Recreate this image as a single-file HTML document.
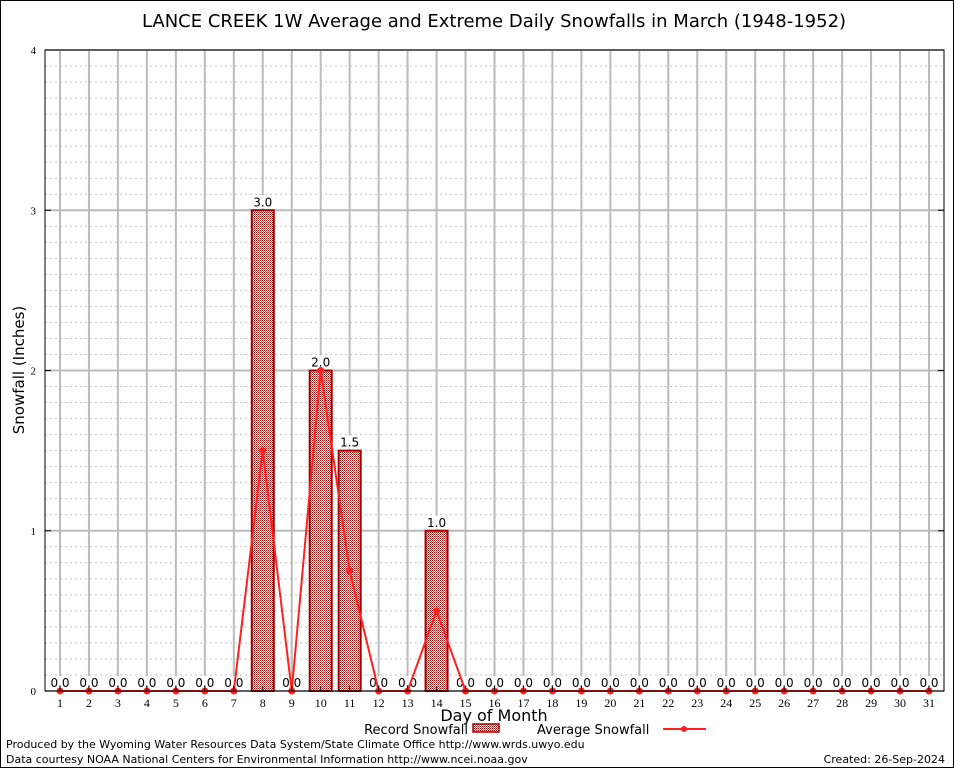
<!DOCTYPE html>
<html><head><meta charset="utf-8"><style>
body{margin:0;background:#fff;}
svg{display:block;font-family:"DejaVu Sans","Liberation Sans",sans-serif;}
</style></head><body>
<svg id="c" width="954" height="768" viewBox="0 0 954 768">
<defs>
<pattern id="hatch" width="2" height="2" patternUnits="userSpaceOnUse">
<rect width="2" height="2" fill="#fff"/><rect width="1" height="1" fill="#a00000"/><rect x="1" y="1" width="1" height="1" fill="#c85a5a"/>
</pattern>
</defs>
<rect x="0.5" y="0.5" width="953" height="767" fill="#fff" stroke="#000"/>
<text x="494" y="27" font-size="18" text-anchor="middle">LANCE CREEK 1W Average and Extreme Daily Snowfalls in March (1948-1952)</text>
<g id="grid"></g>
<g id="bars"></g>
<g id="labels"></g>
<g id="line"></g>
<g id="axes"></g>
<text transform="translate(24,370) rotate(-90)" font-size="15" text-anchor="middle">Snowfall (Inches)</text>
<text x="494" y="721" font-size="16" text-anchor="middle">Day of Month</text>
<g>
<text x="468" y="734" font-size="13" text-anchor="end">Record Snowfall</text>
<rect x="473" y="724" width="26" height="8" fill="url(#hatch)" stroke="#a00000" stroke-width="1.5"/>
</g>
<g>
<text x="537" y="734" font-size="13">Average Snowfall</text>
<line x1="663" y1="729" x2="706" y2="729" stroke="#ff2020" stroke-width="2"/>
<circle cx="684" cy="729" r="3" fill="#ff2020"/>
</g>
<text x="6" y="748" font-size="11">Produced by the Wyoming Water Resources Data System/State Climate Office http://www.wrds.uwyo.edu</text>
<text x="6" y="763" font-size="11">Data courtesy NOAA National Centers for Environmental Information http://www.ncei.noaa.gov</text>
<text x="945" y="763" font-size="11" text-anchor="end">Created: 26-Sep-2024</text>
</svg>
<script>
const days=[1,2,3,4,5,6,7,8,9,10,11,12,13,14,15,16,17,18,19,20,21,22,23,24,25,26,27,28,29,30,31];
const recordSnow=[0,0,0,0,0,0,0,3.0,0,2.0,1.5,0,0,1.0,0,0,0,0,0,0,0,0,0,0,0,0,0,0,0,0,0];
const avgSnow=[0,0,0,0,0,0,0,1.5,0,2.0,0.75,0,0,0.5,0,0,0,0,0,0,0,0,0,0,0,0,0,0,0,0,0];
const yTicks=[0,1,2,3,4];
const NS='http://www.w3.org/2000/svg';
const L=45,R=944,T=50,B=691;
const x=d=>60+(d-1)*(929-60)/30;
const y=v=>B-(v/4)*(B-T);
function mk(tag,at,parent){const e=document.createElementNS(NS,tag);for(const k in at)e.setAttribute(k,at[k]);parent.appendChild(e);return e;}
const grid=document.getElementById('grid'),bars=document.getElementById('bars'),line=document.getElementById('line'),labels=document.getElementById('labels'),axes=document.getElementById('axes');
for(let k=1;k<40;k++){if(k%10===0)continue;const v=k/10;const g=mk('line',{x1:L,x2:R,y1:y(v),y2:y(v),stroke:'#c4c4c4','stroke-dasharray':'2,3','stroke-width':1},grid);

}
days.forEach(d=>{const g=mk('line',{x1:x(d),x2:x(d),y1:T,y2:B,stroke:'#bbb','stroke-width':2},grid);

});
yTicks.forEach(v=>{const g=mk('line',{x1:L,x2:R,y1:y(v),y2:y(v),stroke:'#bbb','stroke-width':2},grid);


const t=mk('text',{x:L-9,y:y(v)+4,'font-size':11,'text-anchor':'end','font-family':'Liberation Serif,serif'},axes);t.textContent=v;


mk('line',{x1:L,x2:L+6,y1:y(v),y2:y(v),stroke:'#000'},axes);mk('line',{x1:R-6,x2:R,y1:y(v),y2:y(v),stroke:'#000'},axes);});
mk('rect',{x:L,y:T,width:R-L,height:B-T,fill:'none',stroke:'#000','stroke-width':1},axes);
days.forEach((d,i)=>{const v=recordSnow[i];
if(v>0){const r=mk('rect',{x:x(d)-11,y:y(v),width:22,height:B-y(v),fill:'url(#hatch)',stroke:'#a00000','stroke-width':2},bars);

}
mk('rect',{x:x(d)-11,y:y(v)-15,width:22,height:13,fill:'#fff'},labels);
const t=mk('text',{x:x(d),y:y(v)-4,'font-size':12,'text-anchor':'middle'},labels);t.textContent=v.toFixed(1);


const tl=mk('text',{x:x(d),y:B+16,'font-size':12,'text-anchor':'middle','font-family':'Liberation Serif,serif'},axes);tl.textContent=d;


mk('line',{x1:x(d),x2:x(d),y1:B,y2:B-5,stroke:'#000'},axes);});
const pl=mk('polyline',{points:days.map((d,i)=>x(d)+','+y(avgSnow[i])).join(' '),fill:'none',stroke:'#ff2020','stroke-width':2},line);


days.forEach((d,i)=>{const c=mk('circle',{cx:x(d),cy:y(avgSnow[i]),r:3.5,fill:'#ff2020'},line);

});
</script>
</body></html>
